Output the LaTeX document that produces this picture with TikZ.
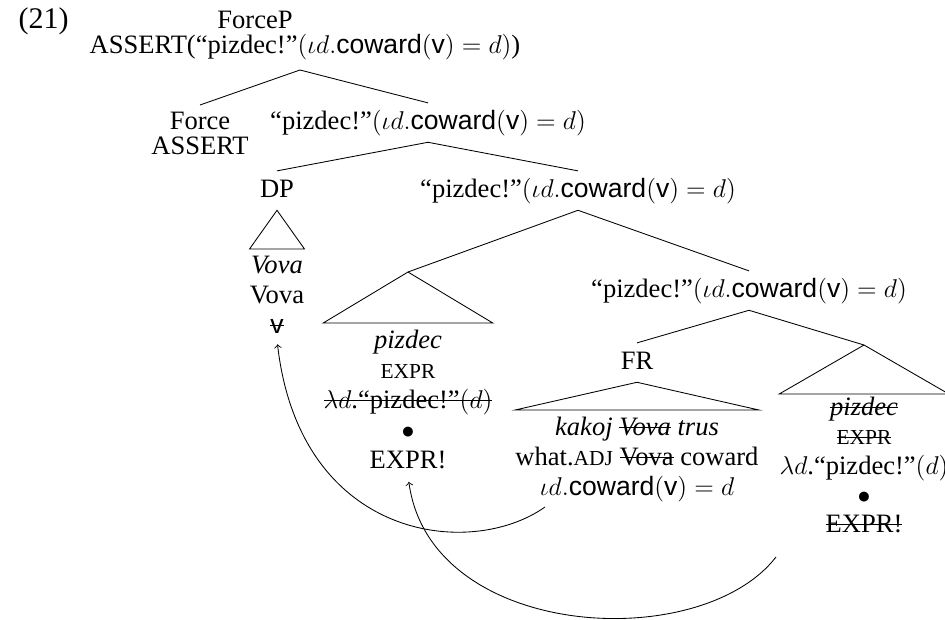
\documentclass[tikz,border=0pt]{standalone}
\usepackage{amsmath,amssymb}
\usepackage{fontspec}
\setmainfont{Liberation Serif}
\setsansfont{Liberation Sans}
\usepackage{tikz}
\usetikzlibrary{arrows, positioning, calc}

\newsavebox{\strkbox}
\newcommand{\strk}[1]{\sbox{\strkbox}{#1}\rlap{\rule[0.27em]{\wd\strkbox}{0.45pt}}\usebox{\strkbox}}
\newcommand{\scaps}[1]{{\fontsize{10pt}{14pt}\selectfont #1}}
\newcommand{\pzfull}{“pizdec!”$(\iota d.\textsf{coward}(\textsf{v}) = d)$}

\begin{document}
\begin{tikzpicture}[
      x=0.467pt, y=-0.467pt,
      every node/.style={font=\fontsize{12.4pt}{14pt}\selectfont},
      lbl/.style  ={inner sep=3pt, text height=9pt, text depth=3pt, anchor=base},
      stack/.style={align=center, inner xsep=0pt, inner ysep=3pt, anchor=north},
      >=to
    ]
    \useasboundingbox (0,0) rectangle (945,619);
    \clip (0,0) rectangle (945,619);

    % Nummer og rot
    \node[anchor=base west, font=\fontsize{14pt}{16pt}\selectfont] (num) at (11,29) {(21)};
    \node[anchor=base, inner sep=0pt] (forcep) at (255,28) {ForceP};
    \node[anchor=base, inner sep=0pt] (root) at (305,53) {ASSERT(\pzfull)};
    \coordinate (rootB) at (300,70);

    % Nivaa 2
    \node[align=center, anchor=north, inner sep=3pt] (force) at (200,105) {Force\\[-2pt]ASSERT};
    \node[lbl] (p2) at (428,129) {\pzfull};
    \draw (rootB) -- (force.north);
    \draw (rootB) -- (p2.north);

    % DP med tak
    \node[lbl] (dp) at (277,197) {DP};
    \node[lbl] (p3) at (578,197) {\pzfull};
    \draw (p2.south) -- (dp.north);
    \draw (p2.south) -- (p3.north);
    \node[stack] (vova) at (277,249) {\textit{Vova}\\Vova\\\strk{\textsf{v}}};
    \draw (dp.south) -- (vova.north west) -- (vova.north east) -- cycle;

    % pizdec-tak
    \coordinate (leftR) at (408,272);
    \node[stack] (pz1) at (408,323) {\textit{pizdec}\\\scaps{EXPR}\\\strk{$\lambda d$.“pizdec!”$(d)$}\\$\bullet$\\EXPR!};
    \draw (p3.south) -- (leftR);
    \draw (leftR) -- (pz1.north west) -- (pz1.north east) -- cycle;

    % Nivaa 4
    \node[lbl] (p4) at (749,297) {\pzfull};
    \draw (p3.south) -- (p4.north);

    % FR med tak
    \node[lbl] (fr) at (637,369) {FR};
    \draw (p4.south) -- (fr.north);
    \node[stack] (kak) at (637,410) {\textit{kakoj \strk{Vova} trus}\\what.\scaps{ADJ} \strk{Vova} coward\\$\iota d.\textsf{coward}(\textsf{v}) = d$};
    \draw (fr.south) -- (kak.north west) -- (kak.north east) -- cycle;

    % Hoyre tak
    \coordinate (rightR) at (864,345);
    \node[stack, inner ysep=1pt] (pz2) at (864,394) {\strk{\textit{pizdec}}\\\strk{\scaps{EXPR}}\\$\lambda d$.“pizdec!”$(d)$\\[-0.6pt]$\bullet$\\[-0.6pt]\strk{EXPR!}};
    \draw (p4.south) -- (rightR);
    \draw (rightR) -- (pz2.north west) -- (pz2.north east) -- cycle;

    % Bevegelsespiler
    \coordinate (tr1) at (545,507);
    \coordinate (tr2) at (776,557);
    \draw[->, shorten >=2pt] (tr1) .. controls (470,560) and (300,540) .. (vova.south);
    \draw[->, shorten >=3pt] (tr2) .. controls (700,655) and (430,640) .. (pz1.south);

  \end{tikzpicture}
\end{document}
